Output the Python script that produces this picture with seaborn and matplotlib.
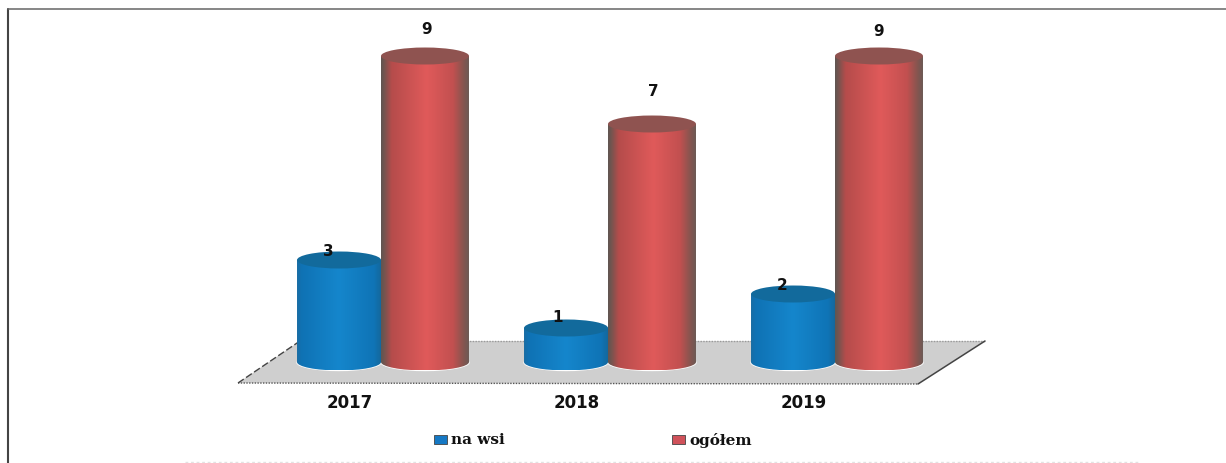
import matplotlib
matplotlib.use('Agg')
import matplotlib.pyplot as plt
import seaborn as sns
import pandas as pd
import numpy as np
from matplotlib.colors import LinearSegmentedColormap
from matplotlib.lines import Line2D
from matplotlib.patches import Ellipse, PathPatch, Polygon, Rectangle
from matplotlib.path import Path

years = ['2017', '2018', '2019']
na_wsi = [3, 1, 2]
ogolem = [9, 7, 9]
series_names = ['na wsi', 'ogółem']

W, H = 1226, 463
PX_PER_CAT = 227.0
PX_PER_UNIT = 34.0
X0_PX = 381.0  # centre of first group
Y0_PX = 362.0  # base of the cylinders
ELL_H = 8.5 / PX_PER_UNIT  # half height of the cylinder ends
RED_EXTRA = 4.0 / PX_PER_CAT  # red cylinders are a bit wider in the picture


def px(x, y):
    """Pixel position in the reference -> data coordinates."""
    return (x - X0_PX) / PX_PER_CAT, (Y0_PX - y) / PX_PER_UNIT


df = pd.DataFrame({
    'rok': years * 2,
    'seria': [series_names[0]] * 3 + [series_names[1]] * 3,
    'ile': na_wsi + ogolem,
})

sns.set_theme(style='white')
fig = plt.figure(figsize=(W / 100, H / 100), dpi=100, facecolor='white')
ax = fig.add_axes([0, 0, 1, 1])

sns.barplot(data=df, x='rok', y='ile', hue='seria', ax=ax, width=0.74, gap=0,
            palette=['#1585cc', '#e05a5a'], legend=False, zorder=3)

ax.set_xlim(px(0, 0)[0], px(W, 0)[0])
ax.set_ylim(px(0, H)[1], px(0, 0)[1])
ax.axis('off')

# floor
floor = [px(238, 383), px(300, 341), px(985, 341), px(918, 384)]
ax.add_patch(Polygon(floor, closed=True, facecolor='#cfcfcf', edgecolor='none', zorder=1))
fx, fy = zip(*floor)
ax.plot([fx[0], fx[3]], [fy[0], fy[3]], color='#555555', lw=1, ls=(0, (1, 1)), zorder=2)
ax.plot([fx[1], fx[2]], [fy[1], fy[2]], color='#999999', lw=1, ls=(0, (1, 1)), zorder=2)
ax.plot([fx[0], fx[1]], [fy[0], fy[1]], color='#444444', lw=1, ls=(0, (5, 2)), zorder=2)
ax.plot([fx[2], fx[3]], [fy[2], fy[3]], color='#444444', lw=1.1, zorder=2)

side_cmaps = {
    series_names[0]: LinearSegmentedColormap.from_list('b', [
        (0, '#1a6da3'), (0.05, '#0f72b4'), (0.5, '#1586cc'), (0.92, '#0f74b6'), (1, '#14689c')]),
    series_names[1]: LinearSegmentedColormap.from_list('r', [
        (0, '#5f5652'), (0.04, '#76544f'), (0.12, '#b54c4b'), (0.52, '#e05a5a'),
        (0.82, '#c25050'), (0.94, '#85554f'), (1, '#6c5a55')]),
}
top_colors = {series_names[0]: '#126a9c', series_names[1]: '#8f5350'}

# turn the flat bars into cylinders
grad = np.linspace(0, 1, 256).reshape(1, -1)
for container, name in zip(ax.containers, series_names):
    for bar in container:
        x, w, h = bar.get_x(), bar.get_width(), bar.get_height()
        if name == series_names[1]:
            w += RED_EXTRA
        bar.set_visible(False)
        cx = x + w / 2

        # thin white halo under the base, then the body
        ax.add_patch(Ellipse((cx, -0.02), w * 1.015, 2 * ELL_H, facecolor='white',
                             edgecolor='none', zorder=2.5))
        kappa = 0.5523
        rx, ry = w / 2, ELL_H
        verts = [(x, h), (x, 0),
                 (x, -ry * kappa), (cx - rx * kappa, -ry), (cx, -ry),
                 (cx + rx * kappa, -ry), (x + w, -ry * kappa), (x + w, 0),
                 (x + w, h), (x, h)]
        codes = [Path.MOVETO, Path.LINETO, Path.CURVE4, Path.CURVE4, Path.CURVE4,
                 Path.CURVE4, Path.CURVE4, Path.CURVE4, Path.LINETO, Path.CLOSEPOLY]
        z = 3 + (0.5 if name == series_names[1] else 0)
        body = PathPatch(Path(verts, codes), facecolor='none', edgecolor='none', zorder=z)
        ax.add_patch(body)
        im = ax.imshow(grad, cmap=side_cmaps[name], extent=(x, x + w, -ry, h + ry),
                       aspect='auto', zorder=z, interpolation='bilinear')
        im.set_clip_path(body)
        ax.add_patch(Ellipse((cx, h), w, 2 * ELL_H, facecolor=top_colors[name],
                             edgecolor='none', zorder=z + 0.1))

# imshow resets the limits
ax.set_xlim(px(0, 0)[0], px(W, 0)[0])
ax.set_ylim(px(0, H)[1], px(0, 0)[1])

# value labels
label_font = dict(fontsize=11, fontweight='bold', color='#111111', ha='center', va='center',
                  family='DejaVu Sans', zorder=6)
label_px = {series_names[0]: [(328, 251), (558, 318), (782, 285)],
            series_names[1]: [(427, 30), (653, 92), (879, 31)]}
for name, vals in zip(series_names, (na_wsi, ogolem)):
    for v, pos in zip(vals, label_px[name]):
        ax.text(*px(*pos), str(v), **label_font)

# category labels, shifted left like the 3D projection
for i, yr in enumerate(years):
    ax.text(i - 31 / PX_PER_CAT, px(0, 403)[1], yr, fontsize=12, fontweight='bold',
            family='DejaVu Sans', color='#111111', ha='center', va='center')

# legend
leg_items = [(434, '#1578c4', series_names[0]), (672, '#d0525a', series_names[1])]
for x_px, col, name in leg_items:
    x0, y0 = px(x_px, 444)
    x1, y1 = px(x_px + 13, 435)
    ax.add_patch(Rectangle((x0, y0), x1 - x0, y1 - y0, facecolor=col,
                           edgecolor='#444444', lw=0.6, zorder=5))
    ax.text(*px(x_px + 17, 440), name, fontsize=11, fontweight='bold', family='DejaVu Serif',
            color='#111111', ha='left', va='center')

# frame of the scanned page
for xs, ys, c, lw, ls in [((8, 8), (9, H), '#444444', 1.5, '-'),
                          ((8, W), (8.5, 8.5), '#666666', 1.1, '-'),
                          ((185, 1140), (461.5, 461.5), '#e2e2e2', 1.0, (0, (2, 2)))]:
    a, b = px(xs[0], ys[0]), px(xs[1], ys[1])
    ax.add_line(Line2D([a[0], b[0]], [a[1], b[1]], color=c, lw=lw, ls=ls, zorder=1))

fig.savefig('out.png', dpi=100)
